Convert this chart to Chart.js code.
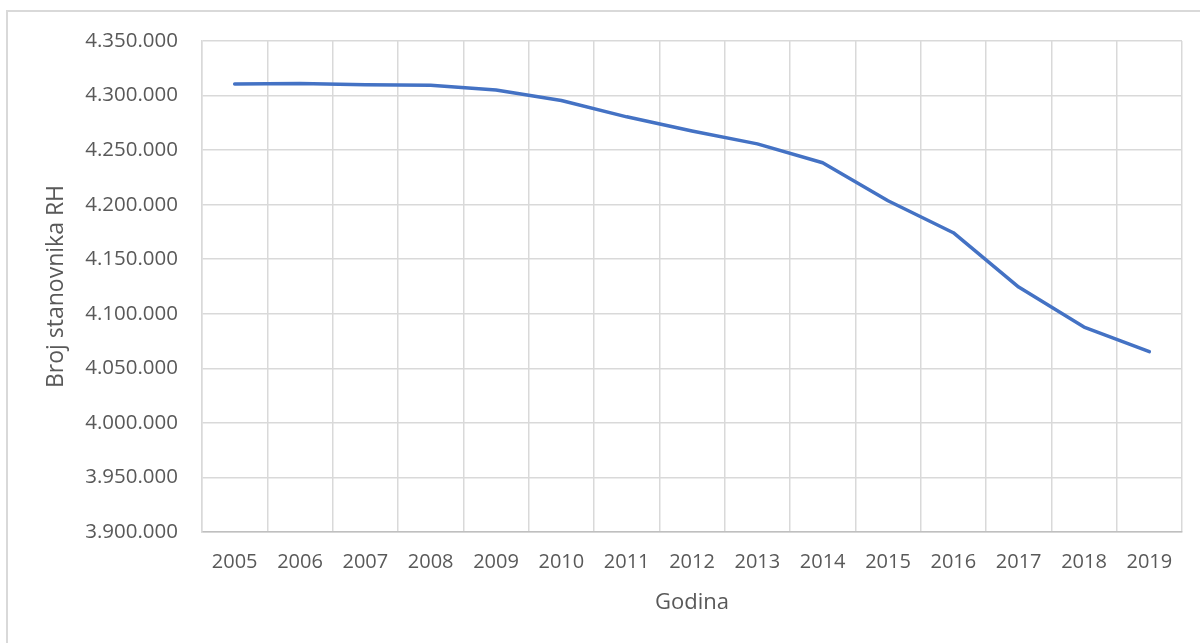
<!DOCTYPE html>
<html>
<head>
<meta charset="utf-8">
<script src="https://cdn.jsdelivr.net/npm/chart.js@4.4.0/dist/chart.umd.min.js"></script>
<style>
  html, body { margin: 0; padding: 0; background: #ffffff; }
  #wrap { width: 1200px; height: 643px; position: relative; }
</style>
</head>
<body>
<div id="wrap"><canvas id="c" width="1200" height="643"></canvas></div>
<script>
const years = ['2005','2006','2007','2008','2009','2010','2011','2012','2013','2014','2015','2016','2017','2018','2019'];
const population = [4310500, 4311000, 4310000, 4309500, 4305000, 4295500, 4280500, 4267500, 4255700, 4238400, 4203600, 4174300, 4124500, 4087800, 4065300];
const yMin = 3900000;
const yMax = 4350000;
const yStep = 50000;
const xTitle = 'Godina';
const yTitle = 'Broj stanovnika RH';

function fmt(v) {
  return String(Math.round(v)).replace(/\B(?=(\d{3})+(?!\d))/g, '.');
}

const frame = {
  id: 'frame',
  beforeDraw(chart) {
    const ctx = chart.ctx;
    ctx.save();
    ctx.fillStyle = '#ffffff';
    ctx.fillRect(0, 0, chart.width, chart.height);
    ctx.strokeStyle = '#d9d9d9';
    ctx.lineWidth = 2;
    ctx.strokeRect(7, 11, chart.width + 20, chart.height + 20);
    ctx.restore();
  }
};

const textColor = '#595959';
const fontFam = "'Open Sans', 'Noto Sans', sans-serif";

new Chart(document.getElementById('c'), {
  type: 'line',
  data: {
    labels: years,
    datasets: [{
      data: population,
      borderColor: '#4472c4',
      borderWidth: 3.5,
      borderCapStyle: 'round',
      borderJoinStyle: 'round',
      pointRadius: 0,
      tension: 0,
      fill: false
    }]
  },
  options: {
    responsive: false,
    animation: false,
    devicePixelRatio: 1,
    layout: { padding: { top: 41, right: 18, bottom: 0, left: 0 } },
    plugins: { legend: { display: false }, tooltip: { enabled: false } },
    scales: {
      x: {
        offset: true,
        grid: { offset: true, color: '#d9d9d9', lineWidth: 1.5, drawTicks: false },
        border: { color: '#bfbfbf', width: 1.5 },
        ticks: { color: textColor, font: { family: fontFam, size: 20 }, padding: 18, maxRotation: 0, autoSkip: false },
        title: { display: true, text: xTitle, color: textColor, font: { family: fontFam, size: 22 }, padding: { top: 10, bottom: 27 } },
        afterFit(scale) { scale.height = 111; }
      },
      y: {
        min: yMin,
        max: yMax,
        grid: { color: '#d9d9d9', lineWidth: 1.5, drawTicks: false },
        border: { color: '#d9d9d9', width: 1.5 },
        ticks: { stepSize: yStep, color: textColor, font: { family: fontFam, size: 20.5 }, padding: 24, callback: (v) => fmt(v) },
        title: { display: true, text: yTitle, color: textColor, font: { family: fontFam, size: 23 }, padding: { top: 43, bottom: 0 } },
        afterFit(scale) { scale.width = 202; }
      }
    }
  },
  plugins: [frame]
});
</script>
</body>
</html>
